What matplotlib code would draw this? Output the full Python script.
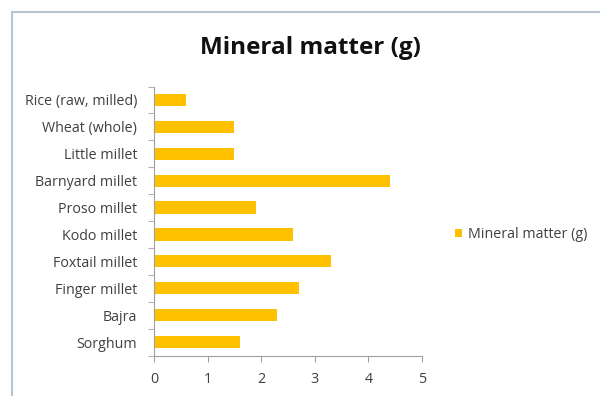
import matplotlib
matplotlib.use("Agg")
import matplotlib.pyplot as plt
from matplotlib.patches import Rectangle
import numpy as np

# Mineral matter per 100 g, bottom-to-top order as plotted
grains = ["Sorghum", "Bajra", "Finger millet", "Foxtail millet", "Kodo millet",
          "Proso millet", "Barnyard millet", "Little millet", "Wheat (whole)",
          "Rice (raw, milled)"]
mineral = [1.6, 2.3, 2.7, 3.3, 2.6, 1.9, 4.4, 1.5, 1.5, 0.6]
series_name = "Mineral matter (g)"

plt.rcParams["font.family"] = ["Open Sans", "DejaVu Sans"]

fig = plt.figure(figsize=(6, 3.96), dpi=100)
W, H = 600, 396

# chart area border
fig.patches.append(Rectangle((12 / W, -0.05), 1.0, 1 - 12 / H + 0.05,
                             transform=fig.transFigure, fill=False,
                             edgecolor="#b8c4d0", linewidth=1.5))

ax = fig.add_axes([154 / W, 1 - 355.5 / H, (422 - 154) / W, (355.5 - 86.5) / H])
y = np.arange(len(grains))
ax.barh(y, mineral, height=0.45, color="#FFC000", label=series_name)

ax.set_xlim(0, 5)
ax.set_ylim(-0.5, len(grains) - 0.5)
ax.set_xticks(range(6))
ax.set_yticks(y)
ax.set_yticklabels(grains)
ax.set_yticks(np.arange(-0.5, len(grains), 1), minor=True)
ax.tick_params(axis="y", which="major", length=0, pad=12, labelsize=10.3, labelcolor="#404040")
ax.tick_params(axis="y", which="minor", length=4, color="#a0a0a0")
ax.tick_params(axis="x", length=4, color="#a0a0a0", labelsize=10.3, labelcolor="#404040", pad=8)

for s in ["top", "right"]:
    ax.spines[s].set_visible(False)
for s in ["left", "bottom"]:
    ax.spines[s].set_color("#a0a0a0")

fig.text(310 / W, 1 - 48 / H, "Mineral matter (g)", ha="center", va="center",
         fontsize=17.5, fontweight="bold", color="#111111")

ax.legend(loc="center left", bbox_to_anchor=(442 / W, 1 - 235 / H),
          bbox_transform=fig.transFigure, frameon=False, fontsize=10.3,
          handlelength=0.5, handleheight=0.5, handletextpad=0.4,
          labelcolor="#404040")

fig.savefig("out.png", dpi=100)
